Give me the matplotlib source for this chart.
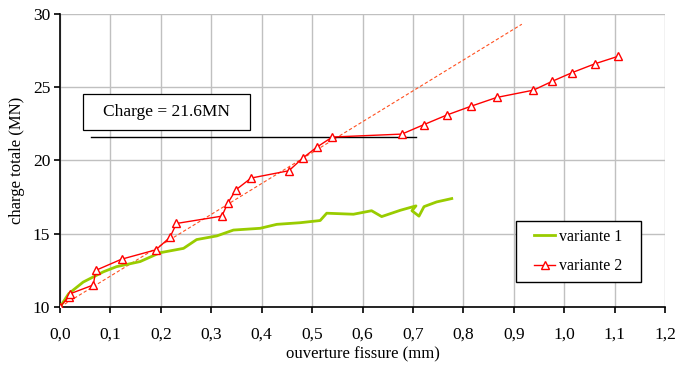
import matplotlib.pyplot as plt
from matplotlib.patches import Rectangle
from matplotlib.ticker import FuncFormatter

plt.rcParams['font.family'] = ['Liberation Serif', 'DejaVu Serif']

# variante 1 (green, no markers)
v1_x = [0.0, 0.017, 0.046, 0.086, 0.112, 0.159, 0.198, 0.245, 0.271, 0.311, 0.344,
        0.397, 0.43, 0.476, 0.516, 0.529, 0.582, 0.618, 0.638, 0.675, 0.706, 0.698,
        0.712, 0.722, 0.747, 0.777]
v1_y = [10.0, 10.9, 11.7, 12.4, 12.75, 13.1, 13.7, 14.0, 14.6, 14.85, 15.25,
        15.37, 15.64, 15.75, 15.9, 16.4, 16.33, 16.57, 16.17, 16.6, 16.9, 16.57,
        16.2, 16.85, 17.17, 17.4]

# variante 2 (red, triangles)
v2_x = [0.0, 0.017, 0.02, 0.066, 0.071, 0.122, 0.19, 0.218, 0.231, 0.321, 0.333,
        0.349, 0.379, 0.454, 0.481, 0.509, 0.54, 0.678, 0.722, 0.767, 0.815, 0.866,
        0.939, 0.976, 1.016, 1.061, 1.106]
v2_y = [10.0, 10.7, 10.9, 11.5, 12.5, 13.26, 13.9, 14.75, 15.7, 16.2, 17.1,
        18.0, 18.8, 19.3, 20.15, 20.9, 21.6, 21.8, 22.45, 23.1, 23.7, 24.3,
        24.8, 25.4, 26.0, 26.6, 27.1]

# linear trend of variante 2
trend_x = [0.0, 0.916]
trend_y = [10.0, 29.3]

# charge level line
charge_x = [0.061, 0.706]
charge_y = [21.6, 21.6]

fig = plt.figure(figsize=(6.75, 3.65), dpi=100)
ax = fig.add_axes([0.0889, 0.159, 0.8963, 0.8027])

ax.plot(trend_x, trend_y, color='#FF5020', linestyle=(0, (3, 2)), linewidth=0.8, zorder=3)
ax.plot(charge_x, charge_y, color='black', linewidth=1.0, zorder=3)
ax.plot(v1_x, v1_y, color='#99CC00', linewidth=2.0, label='variante 1', zorder=4)
ax.plot(v2_x, v2_y, color='#FF0000', linewidth=1.0, marker='^', markersize=5.5,
        markerfacecolor='white', markeredgecolor='#FF0000', markeredgewidth=1.0,
        label='variante 2', zorder=5)

# annotation box
ax.add_patch(Rectangle((0.045, 22.08), 0.332, 2.46, facecolor='white',
                       edgecolor='black', linewidth=0.9, zorder=6))
ax.text(0.211, 23.31, 'Charge = 21.6MN', fontsize=12.5, va='center', ha='center', zorder=7)

ax.set_xlim(0, 1.2)
ax.set_ylim(10, 30)
ax.set_xticks([i / 10 for i in range(13)])
ax.set_yticks([10, 15, 20, 25, 30])
ax.xaxis.set_major_formatter(FuncFormatter(lambda v, p: f'{v:.1f}'.replace('.', ',')))
ax.grid(True, color='#C0C0C0', linewidth=1.0)
ax.set_axisbelow(True)
for s in ['top', 'right']:
    ax.spines[s].set_visible(False)
for s in ['left', 'bottom']:
    ax.spines[s].set_linewidth(1.2)
ax.tick_params(direction='out', length=4, width=1.2, labelsize=12.5, colors='black')
ax.tick_params(axis='x', pad=10)
ax.tick_params(axis='y', pad=3)
ax.set_xlabel('ouverture fissure (mm)', fontsize=12, labelpad=3)
ax.set_ylabel('charge totale (MN)', fontsize=12, labelpad=6)

# legend with its own frame
ax.add_patch(Rectangle((0.754, 0.085), 0.206, 0.2085, transform=ax.transAxes,
                       facecolor='white', edgecolor='black', linewidth=1.0, zorder=6))
leg = ax.legend(loc='center', bbox_to_anchor=(0.857, 0.189), fontsize=11.5, frameon=False,
                handlelength=1.3, handletextpad=0.25, labelspacing=0.85, borderpad=0)
leg.set_zorder(7)

fig.savefig('out.png', dpi=100)
